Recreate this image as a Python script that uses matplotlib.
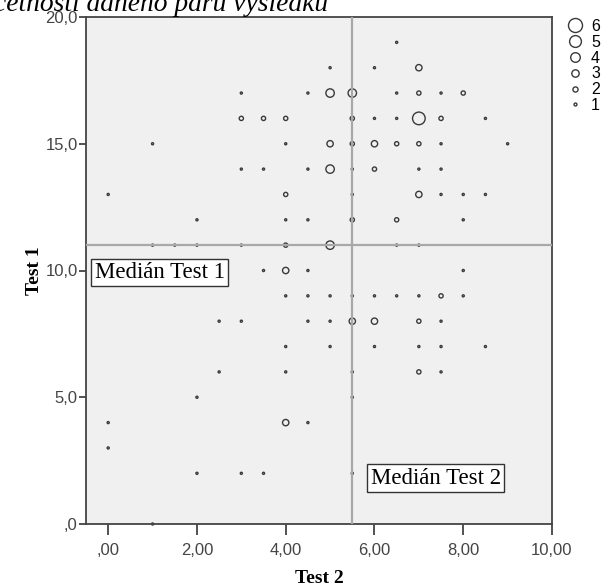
import matplotlib.pyplot as plt
from matplotlib.lines import Line2D

# Test 2 (x), Test 1 (y), pocet (cetnost dvojice)
test2 = [6.5,
         5, 6, 7,
         3, 4.5, 5, 5.5, 6.5, 7, 7.5, 8,
         3, 3.5, 4, 5.5, 6, 6.5, 7, 7.5, 8.5,
         1, 4, 5, 5.5, 6, 6.5, 7, 7.5, 9,
         3, 3.5, 4.5, 5, 5.5, 6, 7, 7.5,
         0, 4, 5.5, 7, 7.5, 8, 8.5,
         2, 4, 4.5, 5.5, 6.5, 8,
         1, 1.5, 2, 3, 4, 5, 6.5, 7,
         3.5, 4, 4.5, 8,
         4, 4.5, 5, 5.5, 6, 6.5, 7, 7.5, 8,
         2.5, 3, 4.5, 5, 5.5, 6, 7, 7.5,
         4, 5, 6, 7, 7.5, 8.5,
         2.5, 4, 5.5, 7, 7.5,
         2, 5.5,
         0, 4, 4.5,
         0,
         2, 3, 3.5, 5.5,
         1]
test1 = [19,
         18, 18, 18,
         17, 17, 17, 17, 17, 17, 17, 17,
         16, 16, 16, 16, 16, 16, 16, 16, 16,
         15, 15, 15, 15, 15, 15, 15, 15, 15,
         14, 14, 14, 14, 14, 14, 14, 14,
         13, 13, 13, 13, 13, 13, 13,
         12, 12, 12, 12, 12, 12,
         11, 11, 11, 11, 11, 11, 11, 11,
         10, 10, 10, 10,
         9, 9, 9, 9, 9, 9, 9, 9, 9,
         8, 8, 8, 8, 8, 8, 8, 8,
         7, 7, 7, 7, 7, 7,
         6, 6, 6, 6, 6,
         5, 5,
         4, 4, 4,
         3,
         2, 2, 2, 2,
         0]
pocet = [1,
         1, 1, 3,
         1, 1, 4, 4, 1, 2, 1, 2,
         2, 2, 2, 2, 1, 1, 6, 2, 1,
         1, 1, 3, 2, 3, 2, 2, 1, 1,
         1, 1, 1, 4, 1, 2, 1, 1,
         1, 2, 1, 3, 1, 1, 1,
         1, 1, 1, 2, 2, 1,
         1, 1, 1, 1, 2, 4, 1, 1,
         1, 3, 1, 1,
         1, 1, 1, 1, 1, 1, 1, 2, 1,
         1, 1, 1, 1, 3, 3, 2, 1,
         1, 1, 1, 1, 1, 1,
         1, 1, 1, 2, 1,
         1, 1,
         1, 3, 1,
         1,
         1, 1, 1, 1,
         1]

median_test1 = 11
median_test2 = 5.5
legenda = [6, 5, 4, 3, 2, 1]

serif = ['Liberation Serif', 'DejaVu Serif']
sans = ['Liberation Sans', 'DejaVu Sans']


def velikost(n):
    return 2.3 * n ** 2


fig = plt.figure(figsize=(6.03, 5.88), dpi=100)
ax = fig.add_axes([86 / 603, 1 - 524 / 588, 466 / 603, 507 / 588])
ax.set_facecolor('#f0f0f0')

ax.scatter(test2, test1, s=[velikost(n) for n in pocet], facecolors='none',
           edgecolors='#3a3a3a', linewidths=1.0, zorder=2, clip_on=False)

# referencni cary (medianu) nad body
ax.axhline(median_test1, color='#a8a8a8', lw=1.6, zorder=3)
ax.axvline(median_test2, color='#a8a8a8', lw=1.6, zorder=3)

ax.set_xlim(-0.5, 10)
ax.set_ylim(0, 20)
ax.set_xticks([0, 2, 4, 6, 8, 10])
ax.set_xticklabels([',00', '2,00', '4,00', '6,00', '8,00', '10,00'])
ax.set_yticks([0, 5, 10, 15, 20])
ax.set_yticklabels([',0', '5,0', '10,0', '15,0', '20,0'])
ax.tick_params(axis='x', length=8, width=1.2, color='#333333', labelsize=12,
               labelcolor='#444444', pad=6)
ax.tick_params(axis='y', length=5, width=1.2, color='#333333', labelsize=12,
               labelcolor='#444444', pad=1)
for lab in ax.get_xticklabels() + ax.get_yticklabels():
    lab.set_family(sans)
for sp in ax.spines.values():
    sp.set_color('#444444')
    sp.set_linewidth(1.3)

ax.set_xlabel('Test 2', family=serif, fontsize=14, fontweight='bold', labelpad=8)
ax.set_ylabel('Test 1', family=serif, fontsize=14, fontweight='bold', labelpad=2)

box = dict(boxstyle='square,pad=0.15', facecolor='white', edgecolor='#333333', lw=1.0)
ax.text(-0.3, 9.92, 'Medián Test 1', family=serif, fontsize=16.5, va='center',
        ha='left', bbox=box, zorder=5)
ax.text(5.92, 1.8, 'Medián Test 2', family=serif, fontsize=16.5, va='center',
        ha='left', bbox=box, zorder=5)

# titulek je v originale oriznuty hornim okrajem
fig.text(328 / 603, 1 - 11 / 588, 'četnosti daného páru výsledků', family=serif,
         style='italic', fontsize=19.8, ha='right', va='baseline')

handles = [Line2D([], [], ls='none', marker='o', markerfacecolor='none',
                  markeredgecolor='#3a3a3a', markeredgewidth=1.0,
                  markersize=1.6 * n + 0.5) for n in legenda]
fig.legend(handles, [str(n) for n in legenda], loc='upper left',
           bbox_to_anchor=(567 / 603, 1 - 19 / 588), frameon=False,
           prop={'family': sans, 'size': 11.5}, handlelength=1.0,
           handletextpad=0.5, labelspacing=0.05, borderpad=0, borderaxespad=0)

fig.savefig('out.png', dpi=100)
